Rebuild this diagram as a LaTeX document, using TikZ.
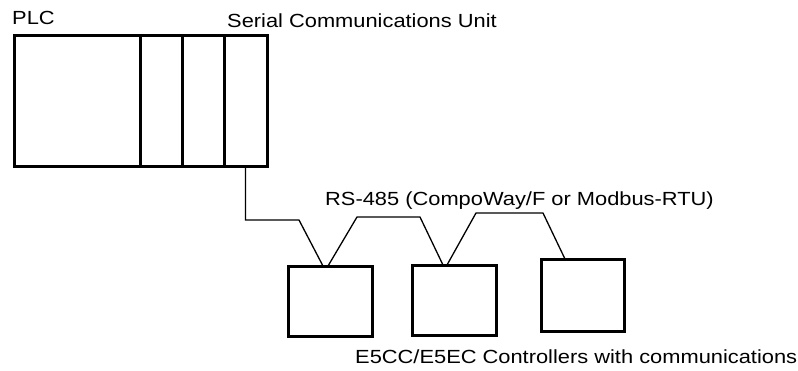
\documentclass[tikz,border=0pt]{standalone}
\usepackage{fontspec}
\setmainfont{Liberation Sans}[FakeStretch=1.15]
\usetikzlibrary{calc}
\begin{document}
\begin{tikzpicture}[x=1pt,y=-1pt,
  box/.style={draw,line width=3pt,inner sep=0pt,outer sep=0pt},
  wire/.style={line width=1.3pt,line join=miter},
  lbl/.style={anchor=base west,inner sep=0pt,font=\fontsize{19}{22}\selectfont}]
\useasboundingbox (0,0) rectangle (798,370);
% PLC rack
\node[box,minimum width=253pt,minimum height=131pt] (plc) at (140.5,100.5) {};
\draw[line width=3pt] (140,35) -- (140,166);
\draw[line width=3pt] (182,35) -- (182,166);
\node[box,minimum width=43pt,minimum height=131pt] (scu) at (245.5,100.5) {};
% controllers
\node[box,minimum width=84pt,minimum height=70pt] (c1) at (330,301) {};
\node[box,minimum width=84pt,minimum height=70pt] (c2) at (454,300) {};
\node[box,minimum width=83pt,minimum height=72pt] (c3) at (582.5,295) {};
% wiring
\coordinate (a1) at (244,220);
\coordinate (a2) at (299,220);
\draw[wire] (scu.south) -- (scu.south |- a1) -- (a2) -- ($(c1.north)+(-7,0)$);
\coordinate (b1) at (357,217);
\coordinate (b2) at (420,217);
\draw[wire] ($(c1.north)+(-2,0)$) -- (b1) -- (b2) -- ($(c2.north)+(-11,0)$);
\coordinate (d1) at (476,213);
\coordinate (d2) at (543,213);
\draw[wire] ($(c2.north)+(-7,0)$) -- (d1) -- (d2) -- ($(c3.north)+(-17.5,0)$);
% labels
\node[lbl] (tplc) at (12,24) {PLC};
\node[lbl] (tscu) at (227,27) {Serial Communications Unit};
\node[lbl] (trs) at (325,205) {RS-485 (CompoWay/F or Modbus-RTU)};
\node[lbl] (tctl) at (355,363) {E5CC/E5EC Controllers with communications};
\end{tikzpicture}
\end{document}
